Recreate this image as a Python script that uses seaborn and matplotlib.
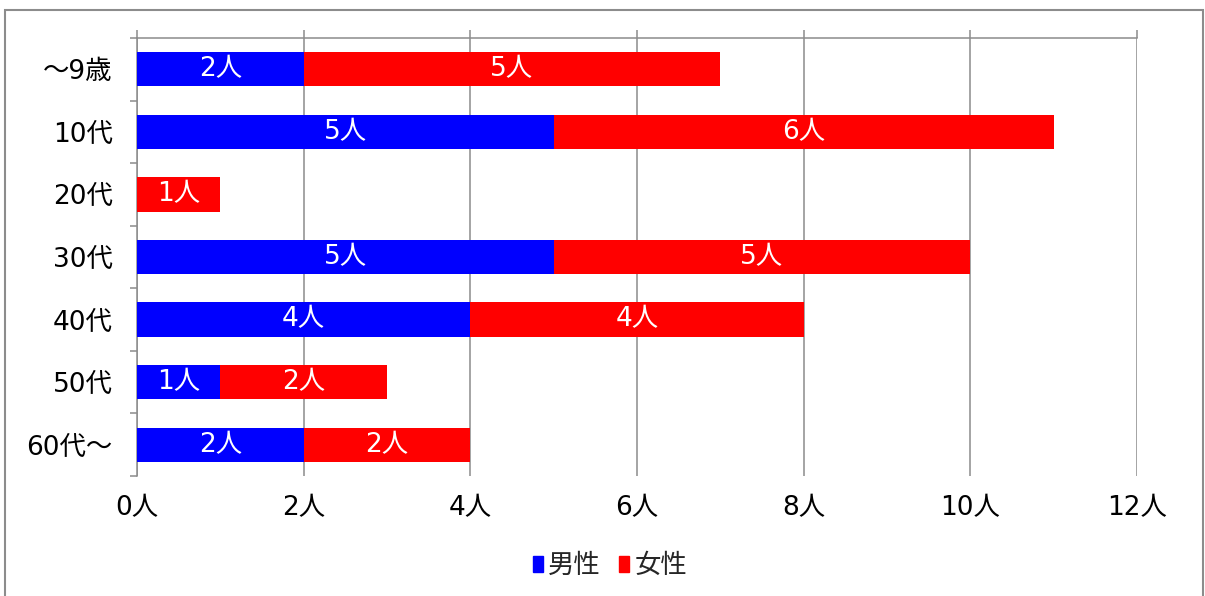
import matplotlib
matplotlib.use("Agg")
import matplotlib.pyplot as plt
from matplotlib.patches import Rectangle, Patch
import seaborn as sns
import pandas as pd

ages = ["～9歳", "10代", "20代", "30代", "40代", "50代", "60代～"]
male = [2, 5, 0, 5, 4, 1, 2]
female = [5, 6, 1, 5, 4, 2, 2]
x_ticks = [0, 2, 4, 6, 8, 10, 12]

BLUE = "#0000FF"
RED = "#FF0000"
GRAY = "#8C8C8C"

sns.set_style("white")
# wide latin digits from DejaVu, kanji from Noto CJK
plt.rcParams["font.family"] = ["DejaVu Sans", "Noto Sans CJK JP"]

df = pd.DataFrame({"age": ages, "male": male, "female": female})
df["total"] = df["male"] + df["female"]

fig = plt.figure(figsize=(12.05, 5.96), dpi=100)
ax = fig.add_axes([137 / 1205, 1 - 476 / 596, 1000 / 1205, 438 / 596])

# stacked: total in red first, then male in blue on top
sns.barplot(data=df, x="total", y="age", order=ages, color=RED, saturation=1,
            width=0.55, linewidth=0, ax=ax, zorder=3)
sns.barplot(data=df, x="male", y="age", order=ages, color=BLUE, saturation=1,
            width=0.55, linewidth=0, ax=ax, zorder=4)

for i, row in df.iterrows():
    if row["male"] > 0:
        ax.text(row["male"] / 2, i, f"{row['male']}人", color="white",
                ha="center", va="center", fontsize=19, zorder=5)
    if row["female"] > 0:
        ax.text(row["male"] + row["female"] / 2, i, f"{row['female']}人",
                color="white", ha="center", va="center", fontsize=19, zorder=5)

ax.set_xlim(0, 12)
ax.set_ylim(6.5, -0.5)
ax.set_xticks(x_ticks)
ax.set_xticklabels([f"{v}人" for v in x_ticks])
ax.set_xlabel("")
ax.set_ylabel("")

ax.grid(axis="x", color=GRAY, linewidth=1.1, zorder=1)
ax.grid(axis="y", visible=False)
for side in ["right", "bottom"]:
    ax.spines[side].set_visible(False)
for side in ["left", "top"]:
    ax.spines[side].set_color(GRAY)
    ax.spines[side].set_linewidth(1.1)
    ax.spines[side].set_zorder(2)

ax.tick_params(axis="x", which="major", bottom=False, top=True, direction="out",
               length=6, width=1.1, color=GRAY, labelsize=19, pad=8,
               labelcolor="black")
ax.set_yticks([i - 0.5 for i in range(len(ages) + 1)], minor=True)
ax.tick_params(axis="y", which="minor", left=True, direction="out", length=5,
               width=1.1, color=GRAY)
ax.tick_params(axis="y", which="major", left=False, labelsize=19, pad=14,
               labelcolor="black")

handles = [Patch(color=BLUE, label="男性"), Patch(color=RED, label="女性")]
fig.legend(handles=handles, loc="center", bbox_to_anchor=(610 / 1205, 1 - 566 / 596),
           ncol=2, frameon=False, fontsize=19, handlelength=0.38, handleheight=0.55,
           handletextpad=0.2, columnspacing=0.7)

fig.patches.append(Rectangle((5 / 1205, -0.05), 1198 / 1205, 1.05 - 10 / 596,
                             transform=fig.transFigure, fill=False,
                             edgecolor=GRAY, linewidth=1.5))

fig.savefig("out.png", dpi=100)
